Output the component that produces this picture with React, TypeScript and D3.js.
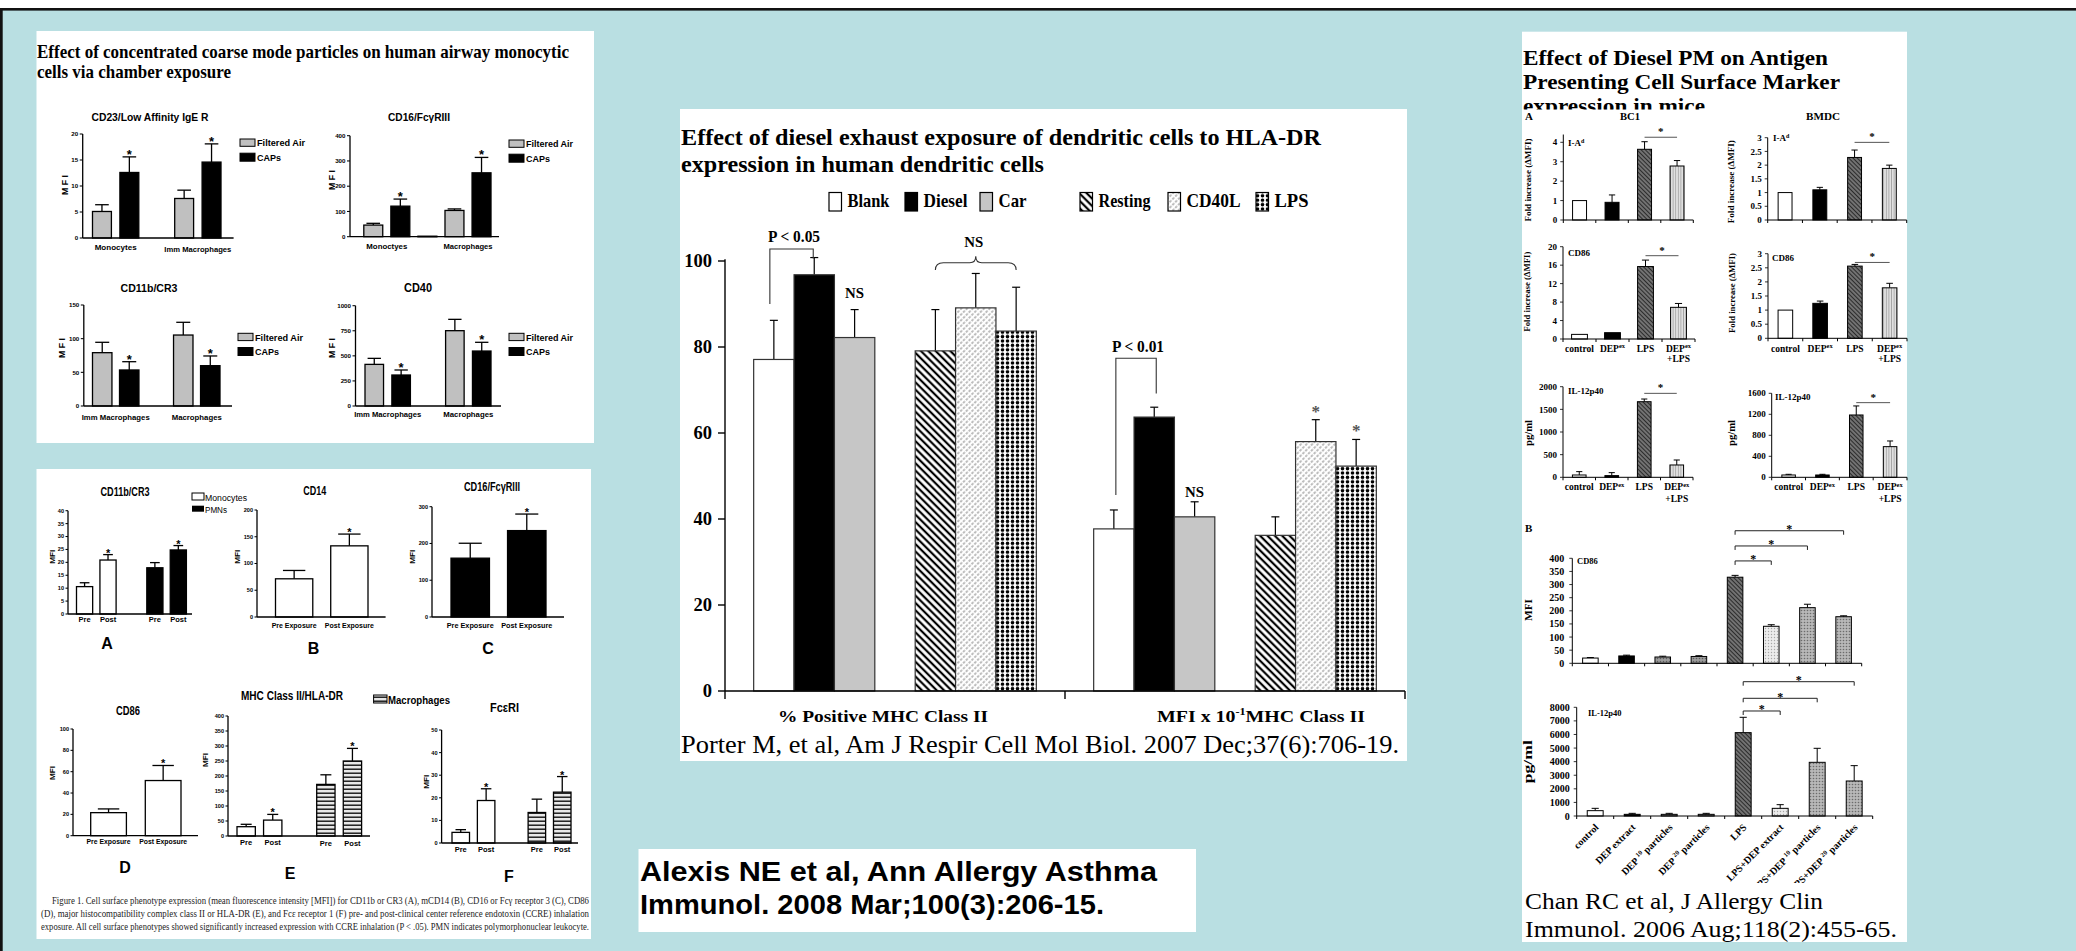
import React from "react";
import * as d3 from "d3";

const W = 2076;
const H = 951;
const SANS = "'Liberation Sans', Arial, Helvetica, sans-serif";
const SERIF = "'Liberation Serif', 'Times New Roman', Times, serif";
const BG = "#b9dfe2";
const GREY = "#c0c0c0";

// ================= Panel 1 data: concentrated coarse mode particles =================
const p1Series = ["Filtered Air", "CAPs"];
const p1Titles = ["CD23/Low  Affinity IgE R", "CD16/Fc\u03b3RIII", "CD11b/CR3", "CD40"];
const cd23Cats = ["Monocytes", "Imm Macrophages"];
const cd23Filtered = [5.1, 7.6];
const cd23FilteredErr = [1.3, 1.6];
const cd23Caps = [12.6, 14.6];
const cd23CapsErr = [3.0, 3.5];
const cd23Ticks = [0, 5, 10, 15, 20];

const cd16Cats = ["Monoctyes", "Macrophages"];
const cd16Filtered = [46, 104];
const cd16FilteredErr = [7, 6];
const cd16Caps = [121, 253];
const cd16CapsErr = [28, 61];
const cd16Extra = 2;
const cd16Ticks = [0, 100, 200, 300, 400];

const cd11Cats = ["Imm Macrophages", "Macrophages"];
const cd11Filtered = [79.2, 105.4];
const cd11FilteredErr = [15.4, 18.9];
const cd11Caps = [53.5, 59.9];
const cd11CapsErr = [12.3, 14.4];
const cd11Ticks = [0, 50, 100, 150];

const cd40Cats = ["Imm Macrophages", "Macrophages"];
const cd40Filtered = [415, 751];
const cd40FilteredErr = [60, 113];
const cd40Caps = [309, 548];
const cd40CapsErr = [50, 87];
const cd40Ticks = [0, 250, 500, 750, 1000];

// ================= Panel 2 data: Alexis NE et al =================
const prePost = ["Pre", "Post"];
const exposure = ["Pre Exposure", "Post Exposure"];
const aMono = [10.6, 20.9];
const aMonoErr = [1.5, 2.1];
const aPmn = [17.9, 24.8];
const aPmnErr = [2.0, 1.7];
const aTicks = [0, 5, 10, 15, 20, 25, 30, 35, 40];
const bCd14 = [71.4, 133];
const bCd14Err = [15.6, 22];
const bTicks = [0, 50, 100, 150, 200];
const cCd16 = [160, 235];
const cCd16Err = [40.6, 45];
const cTicks = [0, 100, 200, 300];
const dCd86 = [21.6, 51.7];
const dCd86Err = [3.5, 14.1];
const dTicks = [0, 20, 40, 60, 80, 100];
const eMono = [31, 53];
const eMonoErr = [8, 19];
const eMac = [172, 250];
const eMacErr = [32, 42];
const eTicks = [0, 50, 100, 150, 200, 250, 300, 350, 400];
const fMono = [4.7, 18.8];
const fMonoErr = [1.2, 5.2];
const fMac = [13.5, 22.5];
const fMacErr = [5.9, 6.9];
const fTicks = [0, 10, 20, 30, 40, 50];
const alexisCaption = [
  "Figure 1. Cell surface phenotype expression (mean fluorescence intensity [MFI]) for CD11b or CR3 (A), mCD14 (B), CD16 or Fc\u03b3 receptor 3 (C), CD86",
  "(D), major histocompatibility complex class II or HLA-DR (E), and Fc\u03b5 receptor 1 (F) pre- and post-clinical center reference endotoxin (CCRE) inhalation",
  "exposure. All cell surface phenotypes showed significantly increased expression with CCRE inhalation (P < .05). PMN indicates polymorphonuclear leukocyte.",
];

// ================= Panel 3 data: Porter M et al =================
const porterGroups = ["% Positive MHC Class II", "MFI x 10-1 MHC Class II"];
const porterSeries = ["Blank", "Diesel", "Car", "Resting", "CD40L", "LPS"];
const porterPositive = [77.1, 96.8, 82.2, 79.1, 89.1, 83.7];
const porterPositiveErr = [9.1, 4.0, 6.5, 9.6, 8.0, 10.2];
const porterMfi = [37.7, 63.7, 40.5, 36.2, 58.0, 52.3];
const porterMfiErr = [4.4, 2.3, 3.5, 4.3, 5.1, 6.2];
const porterTicks = [0, 20, 40, 60, 80, 100];

// ================= Panel 4 data: Chan RC et al =================
const chanCats = ["control", "DEPex", "LPS", "DEPex+LPS"];
const foldLabel = "Fold increase (\u0394MFI)";
const bc1Iad = [1.0, 0.91, 3.64, 2.78];
const bc1IadErr = [0, 0.38, 0.39, 0.28];
const bmdcIad = [1.0, 1.1, 2.28, 1.88];
const bmdcIadErr = [0, 0.09, 0.27, 0.12];
const bc1Cd86 = [1.0, 1.37, 15.7, 6.86];
const bc1Cd86Err = [0, 0, 1.4, 0.84];
const bmdcCd86 = [1.0, 1.24, 2.56, 1.79];
const bmdcCd86Err = [0, 0.08, 0.06, 0.16];
const bc1Il12 = [51, 37, 1669, 272];
const bc1Il12Err = [74, 66, 59, 110];
const bmdcIl12 = [44, 44, 1187, 584];
const bmdcIl12Err = [13, 13, 172, 108];
const iadTicksBc1 = [0, 1, 2, 3, 4];
const foldTicks3 = [0, 0.5, 1, 1.5, 2, 2.5, 3];
const cd86TicksBc1 = [0, 4, 8, 12, 16, 20];
const il12TicksBc1 = [0, 500, 1000, 1500, 2000];
const il12TicksBmdc = [0, 400, 800, 1200, 1600];
const chanBCats = ["control", "DEP extract", "DEP 10 particles", "DEP 20 particles", "LPS", "LPS+DEP extract", "LPS+DEP 10 particles", "LPS+DEP 20 particles"];
const chanBCd86 = [20, 28, 24, 26, 328, 141, 212, 177.5];
const chanBCd86Err = [2, 3, 3, 3, 7, 6, 13, 3.5];
const chanBIl12 = [393, 123, 123, 123, 6135, 564, 3951, 2577];
const chanBIl12Err = [171, 73, 73, 73, 1129, 270, 1031, 1129];
const chanBCd86Ticks = [0, 50, 100, 150, 200, 250, 300, 350, 400];
const chanBIl12Ticks = [0, 1000, 2000, 3000, 4000, 5000, 6000, 7000, 8000];
const chanBCd86Brackets = [390, 447, 505];
const chanBIl12Brackets = [7728, 8662, 9884];

// ================= helpers =================
type Bar = { v: number; e: number; fill: string; star?: boolean } | null;
type XLab = { t: React.ReactNode; at: number[]; dy: number; len?: number; t2?: React.ReactNode; dy2?: number };
type Sig = { a: number; b: number; v: number; kind: "line" | "bracket" };
type Cfg = {
  bars: Bar[];
  range: [number, number];
  pi: number;
  po: number;
  axX: number;
  axEnd: number;
  y0: number;
  yMax: number;
  yMaxPx: number;
  axTopV?: number;
  ticks: number[];
  tickLen: number;
  tickFs: number;
  tickFont: string;
  tickGap: number;
  sw: number;
  capFrac: number;
  starFs: number;
  starFont: string;
  starDy: number;
  labFs?: number;
  labFont?: string;
  catTick?: number;
  xlabs?: XLab[];
  sigs?: Sig[];
  rot?: { items: React.ReactNode[]; dx: number; dy: number; fs: number };
};

function T(p: {
  x: number; y: number; s: number; f?: string; w?: string | number; a?: string; len?: number;
  rot?: number; fill?: string; children: React.ReactNode;
}) {
  const { x, y, s, f = SANS, w = "bold", a = "start", len, rot, fill = "#000", children } = p;
  return (
    <text
      x={x}
      y={y}
      fontSize={s}
      fontFamily={f}
      fontWeight={w as any}
      textAnchor={a as any}
      fill={fill}
      textLength={len}
      lengthAdjust={len ? "spacingAndGlyphs" : undefined}
      transform={rot ? `rotate(${rot} ${x} ${y})` : undefined}
    >
      {children}
    </text>
  );
}

function Chart({ c }: { c: Cfg }) {
  const y = d3.scaleLinear().domain([0, c.yMax]).range([c.y0, c.yMaxPx]);
  const x = d3
    .scaleBand<number>()
    .domain(d3.range(c.bars.length))
    .range(c.range)
    .paddingInner(c.pi)
    .paddingOuter(c.po);
  const bw = x.bandwidth();
  const cen = (i: number) => (x(i) ?? 0) + bw / 2;
  const capW = bw * c.capFrac;
  const topV = c.axTopV ?? c.yMax;
  const labFs = c.labFs ?? 8;
  const labFont = c.labFont ?? SANS;
  return (
    <g>
      {c.bars.map((b, i) => {
        if (!b) return null;
        const x0 = x(i) ?? 0;
        const cx = x0 + bw / 2;
        const yt = y(b.v);
        const ye = y(b.v + b.e);
        return (
          <g key={"b" + i}>
            {b.e > 0 && <line x1={cx} x2={cx} y1={yt} y2={ye} stroke="#000" strokeWidth={c.sw} />}
            {b.e > 0 && <line x1={cx - capW / 2} x2={cx + capW / 2} y1={ye} y2={ye} stroke="#000" strokeWidth={c.sw} />}
            <rect x={x0} y={yt} width={bw} height={Math.max(0.6, c.y0 - yt)} fill={b.fill} stroke="#000" strokeWidth={c.sw} />
            {b.star && (
              <text x={cx} y={ye + c.starDy} fontSize={c.starFs} fontFamily={c.starFont} fontWeight="bold" textAnchor="middle">
                *
              </text>
            )}
          </g>
        );
      })}
      <line x1={c.axX} x2={c.axX} y1={c.y0} y2={y(topV)} stroke="#000" strokeWidth={c.sw} />
      <line x1={c.axX} x2={c.axEnd} y1={c.y0} y2={c.y0} stroke="#000" strokeWidth={c.sw} />
      {c.ticks.map((t) => (
        <g key={"t" + t}>
          <line x1={c.axX - c.tickLen} x2={c.axX} y1={y(t)} y2={y(t)} stroke="#000" strokeWidth={c.sw * 0.8} />
          <text
            x={c.axX - c.tickLen - c.tickGap}
            y={y(t)}
            dy="0.35em"
            fontSize={c.tickFs}
            fontFamily={c.tickFont}
            fontWeight="bold"
            textAnchor="end"
          >
            {String(t)}
          </text>
        </g>
      ))}
      {c.catTick
        ? d3.range(c.bars.length + 1).map((i) => {
            const xb = c.range[0] + i * x.step();
            return <line key={"ct" + i} x1={xb} x2={xb} y1={c.y0} y2={c.y0 + (c.catTick as number)} stroke="#000" strokeWidth={c.sw} />;
          })
        : null}
      {(c.xlabs ?? []).map((l, k) => {
        const cx = d3.mean(l.at.map(cen)) as number;
        return (
          <g key={"xl" + k}>
            <text
              x={cx}
              y={c.y0 + l.dy}
              fontSize={labFs}
              fontFamily={labFont}
              fontWeight="bold"
              textAnchor="middle"
              textLength={l.len}
              lengthAdjust={l.len ? "spacingAndGlyphs" : undefined}
            >
              {l.t}
            </text>
            {l.t2 && (
              <text x={cx} y={c.y0 + (l.dy2 ?? l.dy + 11)} fontSize={labFs} fontFamily={labFont} fontWeight="bold" textAnchor="middle">
                {l.t2}
              </text>
            )}
          </g>
        );
      })}
      {(c.sigs ?? []).map((s, k) => {
        const xa = cen(s.a);
        const xb = cen(s.b);
        const ys = y(s.v);
        if (s.kind === "line") {
          return (
            <g key={"sg" + k}>
              <line x1={xa} x2={xb} y1={ys} y2={ys} stroke="#555" strokeWidth={1} />
              <text x={(xa + xb) / 2} y={ys - 2} fontSize={11} fontFamily={SERIF} fontWeight="bold" textAnchor="middle">
                *
              </text>
            </g>
          );
        }
        return (
          <g key={"sg" + k}>
            <path d={`M${xa},${ys + 4}V${ys}H${xb}V${ys + 4}`} fill="none" stroke="#222" strokeWidth={1} />
            <text x={(xa + xb) / 2} y={ys + 2.5} fontSize={12} fontFamily={SERIF} fontWeight="bold" textAnchor="middle">
              *
            </text>
          </g>
        );
      })}
      {c.rot &&
        c.rot.items.map((it, i) => {
          const lx = cen(i) + c.rot!.dx;
          const ly = c.y0 + c.rot!.dy;
          return (
            <text
              key={"rl" + i}
              x={lx}
              y={ly}
              fontSize={c.rot!.fs}
              fontFamily={SERIF}
              fontWeight="bold"
              textAnchor="end"
              transform={`rotate(-45 ${lx} ${ly})`}
            >
              {it}
            </text>
          );
        })}
    </g>
  );
}

// bars laid out [A0, B0*, mid, A1, B1*]
function grouped(a: number[], ae: number[], fa: string, b: number[], be: number[], fb: string, mid: Bar): Bar[] {
  return [
    { v: a[0], e: ae[0], fill: fa },
    { v: b[0], e: be[0], fill: fb, star: true },
    mid,
    { v: a[1], e: ae[1], fill: fa },
    { v: b[1], e: be[1], fill: fb, star: true },
  ];
}
// bars laid out [m-pre, m-post*, gap, n-pre, n-post*]
function prepost(m: number[], me: number[], fm: string, n: number[], ne: number[], fn: string, starM: boolean): Bar[] {
  return [
    { v: m[0], e: me[0], fill: fm },
    { v: m[1], e: me[1], fill: fm, star: starM },
    null,
    { v: n[0], e: ne[0], fill: fn },
    { v: n[1], e: ne[1], fill: fn, star: true },
  ];
}

function Defs() {
  return (
    <defs>
      <pattern id="pRest" width="5.2" height="5.2" patternUnits="userSpaceOnUse" patternTransform="rotate(45)">
        <rect width="5.2" height="5.2" fill="#fff" />
        <line x1="0" x2="5.2" y1="2.6" y2="2.6" stroke="#000" strokeWidth="2.2" />
      </pattern>
      <pattern id="pCd40" width="4" height="4" patternUnits="userSpaceOnUse" patternTransform="rotate(-45)">
        <rect width="4" height="4" fill="#fff" />
        <line x1="0" x2="4" y1="2" y2="2" stroke="#7a7a7a" strokeWidth="1.2" strokeDasharray="2.6 1.4" />
      </pattern>
      <pattern id="pLps" width="5" height="4.4" patternUnits="userSpaceOnUse">
        <rect width="5" height="4.4" fill="#fff" />
        <circle cx="2.5" cy="2.2" r="1.8" fill="#000" />
      </pattern>
      <pattern id="pH" width="6" height="4" patternUnits="userSpaceOnUse">
        <rect width="6" height="4" fill="#e8e8e8" />
        <line x1="0" x2="6" y1="1.2" y2="1.2" stroke="#111" strokeWidth="1.4" />
      </pattern>
      <pattern id="pDark" width="3" height="3" patternUnits="userSpaceOnUse" patternTransform="rotate(45)">
        <rect width="3" height="3" fill="#7a7a7a" />
        <line x1="0" x2="3" y1="1.5" y2="1.5" stroke="#2c2c2c" strokeWidth="1.2" />
      </pattern>
      <pattern id="pLight" width="2.6" height="3" patternUnits="userSpaceOnUse">
        <rect width="2.6" height="3" fill="#e0e0e0" />
        <line x1="1.3" x2="1.3" y1="0" y2="3" stroke="#a6a6a6" strokeWidth="0.9" />
      </pattern>
      <pattern id="pMid" width="3" height="3" patternUnits="userSpaceOnUse">
        <rect width="3" height="3" fill="#9c9c9c" />
        <circle cx="1.5" cy="1.5" r="0.8" fill="#5c5c5c" />
      </pattern>
      <pattern id="pPale" width="3" height="3" patternUnits="userSpaceOnUse">
        <rect width="3" height="3" fill="#ececec" />
        <circle cx="1.5" cy="1.5" r="0.7" fill="#a8a8a8" />
      </pattern>
      <pattern id="pGrayDot" width="3" height="3" patternUnits="userSpaceOnUse">
        <rect width="3" height="3" fill="#b8b8b8" />
        <circle cx="1.5" cy="1.5" r="0.8" fill="#6c6c6c" />
      </pattern>
      <clipPath id="clipTitleR">
        <rect x="1522" y="30" width="390" height="79.5" />
      </clipPath>
    </defs>
  );
}

// ================= Panel: top-left =================
function FaLegend({ x, y, len1, len2 }: { x: number; y: number; len1: number; len2: number }) {
  return (
    <g>
      <rect x={x} y={y} width={15} height={7.3} fill={GREY} stroke="#000" strokeWidth={1} />
      <T x={x + 17} y={y + 7.3} s={9} len={len1}>{p1Series[0]}</T>
      <rect x={x} y={y + 14.2} width={15} height={8} fill="#000" stroke="#000" strokeWidth={1} />
      <T x={x + 17} y={y + 21.5} s={9} len={len2}>{p1Series[1]}</T>
    </g>
  );
}

function PanelTL() {
  const base = {
    tickLen: 3, tickFs: 6.2, tickFont: SANS, tickGap: 1.5, sw: 1.3, capFrac: 0.72,
    starFs: 13, starFont: SANS, starDy: 2, labFs: 7.5, labFont: SANS, po: 0,
  };
  const charts: Cfg[] = [
    {
      ...base,
      bars: grouped(cd23Filtered, cd23FilteredErr, GREY, cd23Caps, cd23CapsErr, "#000", null),
      range: [92.5, 221], pi: 0.31, axX: 82.7, axEnd: 233.6, y0: 238, yMax: 20, yMaxPx: 134, ticks: cd23Ticks,
      xlabs: [
        { t: cd23Cats[0], at: [0, 1], dy: 12, len: 42 },
        { t: cd23Cats[1], at: [3, 4], dy: 14, len: 67 },
      ],
    },
    {
      ...base,
      bars: grouped(cd16Filtered, cd16FilteredErr, GREY, cd16Caps, cd16CapsErr, "#000", { v: cd16Extra, e: 0, fill: "#000" }),
      range: [363.8, 491], pi: 0.3, axX: 350, axEnd: 499, y0: 236.7, yMax: 400, yMaxPx: 135.7, ticks: cd16Ticks,
      xlabs: [
        { t: cd16Cats[0], at: [0, 1], dy: 12.5, len: 41 },
        { t: cd16Cats[1], at: [3, 4], dy: 12.5, len: 49 },
      ],
    },
    {
      ...base,
      bars: grouped(cd11Filtered, cd11FilteredErr, GREY, cd11Caps, cd11CapsErr, "#000", null),
      range: [92.5, 220], pi: 0.28, axX: 83.8, axEnd: 232, y0: 406, yMax: 150, yMaxPx: 305, ticks: cd11Ticks,
      xlabs: [
        { t: cd11Cats[0], at: [0, 1], dy: 14, len: 68 },
        { t: cd11Cats[1], at: [3, 4], dy: 14, len: 50 },
      ],
    },
    {
      ...base,
      bars: grouped(cd40Filtered, cd40FilteredErr, GREY, cd40Caps, cd40CapsErr, "#000", null),
      range: [365, 491], pi: 0.31, axX: 355.5, axEnd: 501, y0: 406, yMax: 1000, yMaxPx: 305.7, ticks: cd40Ticks,
      xlabs: [
        { t: cd40Cats[0], at: [0, 1], dy: 11, len: 67 },
        { t: cd40Cats[1], at: [3, 4], dy: 11, len: 50 },
      ],
    },
  ];
  const titlePos: [number, number, number, number][] = [
    [150, 120.7, 11, 117],
    [419, 120.7, 11, 62],
    [149, 291.5, 11.5, 57],
    [418, 292, 13, 28],
  ];
  return (
    <g>
      <rect x={36.5} y={31} width={557.5} height={412} fill="#fff" />
      <T x={37} y={58.3} s={19} f={SERIF} len={532}>Effect of concentrated coarse mode particles on human airway monocytic</T>
      <T x={37} y={78.3} s={19} f={SERIF} len={194}>cells via chamber exposure</T>
      {p1Titles.map((t, i) => (
        <T key={t} x={titlePos[i][0]} y={titlePos[i][1]} s={titlePos[i][2]} a="middle" len={titlePos[i][3]}>
          {t}
        </T>
      ))}
      {[
        [67.5, 185],
        [335, 180],
        [65, 348],
        [335, 348],
      ].map(([x, y], i) => (
        <T key={i} x={x} y={y} s={9} a="middle" rot={-90} len={20}>M F I</T>
      ))}
      {charts.map((c, i) => (
        <Chart key={i} c={c} />
      ))}
      <FaLegend x={240} y={139} len1={48} len2={24} />
      <FaLegend x={509} y={140} len1={47} len2={24} />
      <FaLegend x={238} y={333.3} len1={48} len2={24} />
      <FaLegend x={509} y={333.3} len1={47} len2={24} />
    </g>
  );
}

// ================= Panel: bottom-left =================
function PanelBL() {
  const base = {
    tickLen: 2.5, tickFs: 5.6, tickFont: SANS, tickGap: 1.5, sw: 1.3, capFrac: 0.6,
    starFs: 11, starFont: SANS, starDy: 2, labFs: 7.5, labFont: SANS, po: 0,
  };
  const charts: Cfg[] = [
    {
      ...base,
      bars: prepost(aMono, aMonoErr, "#fff", aPmn, aPmnErr, "#000", true),
      range: [76.5, 186.4], pi: 0.31, axX: 68, axEnd: 192, y0: 614, yMax: 40, yMaxPx: 510.7, ticks: aTicks,
      xlabs: [
        { t: prePost[0], at: [0], dy: 8 },
        { t: prePost[1], at: [1], dy: 8 },
        { t: prePost[0], at: [3], dy: 8 },
        { t: prePost[1], at: [4], dy: 8 },
      ],
    },
    {
      ...base,
      bars: [
        { v: bCd14[0], e: bCd14Err[0], fill: "#fff" },
        { v: bCd14[1], e: bCd14Err[1], fill: "#fff", star: true },
      ],
      range: [275.5, 368], pi: 0.325, axX: 257, axEnd: 385.6, y0: 617, yMax: 200, yMaxPx: 510, ticks: bTicks,
      xlabs: [
        { t: exposure[0], at: [0], dy: 11, len: 45 },
        { t: exposure[1], at: [1], dy: 11, len: 49 },
      ],
    },
    {
      ...base,
      bars: [
        { v: cCd16[0], e: cCd16Err[0], fill: "#000" },
        { v: cCd16[1], e: cCd16Err[1], fill: "#000", star: true },
      ],
      range: [451, 546], pi: 0.32, axX: 432, axEnd: 564, y0: 617, yMax: 300, yMaxPx: 506.7, ticks: cTicks,
      xlabs: [
        { t: exposure[0], at: [0], dy: 11, len: 47 },
        { t: exposure[1], at: [1], dy: 11, len: 51 },
      ],
    },
    {
      ...base,
      bars: [
        { v: dCd86[0], e: dCd86Err[0], fill: "#fff" },
        { v: dCd86[1], e: dCd86Err[1], fill: "#fff", star: true },
      ],
      range: [90.7, 181], pi: 0.346, axX: 73, axEnd: 198, y0: 835.7, yMax: 100, yMaxPx: 729, ticks: dTicks,
      xlabs: [
        { t: exposure[0], at: [0], dy: 8, len: 44 },
        { t: exposure[1], at: [1], dy: 8, len: 48 },
      ],
    },
    {
      ...base,
      bars: prepost(eMono, eMonoErr, "#fff", eMac, eMacErr, "url(#pH)", true),
      range: [237, 361.6], pi: 0.31, axX: 228, axEnd: 370, y0: 836, yMax: 400, yMaxPx: 716, ticks: eTicks,
      xlabs: [
        { t: prePost[0], at: [0], dy: 9 },
        { t: prePost[1], at: [1], dy: 9 },
        { t: prePost[0], at: [3], dy: 10 },
        { t: prePost[1], at: [4], dy: 10 },
      ],
    },
    {
      ...base,
      bars: prepost(fMono, fMonoErr, "#fff", fMac, fMacErr, "url(#pH)", true),
      range: [452, 571], pi: 0.31, axX: 441.6, axEnd: 578, y0: 843, yMax: 50, yMaxPx: 730, ticks: fTicks,
      xlabs: [
        { t: prePost[0], at: [0], dy: 9 },
        { t: prePost[1], at: [1], dy: 9 },
        { t: prePost[0], at: [3], dy: 9 },
        { t: prePost[1], at: [4], dy: 9 },
      ],
    },
  ];
  const titles: [string, number, number, number][] = [
    ["CD11b/CR3", 125, 496, 49],
    ["CD14", 314.7, 494.5, 23],
    ["CD16/Fc\u03b3RIII", 492, 491, 56],
    ["CD86", 128, 715, 24],
    ["MHC Class II/HLA-DR", 292, 700, 102],
    ["Fc\u03b5RI", 504.5, 712, 29],
  ];
  const letters: [string, number, number][] = [
    ["A", 107, 649],
    ["B", 313.6, 654],
    ["C", 488, 654],
    ["D", 125, 873],
    ["E", 290, 879],
    ["F", 509, 882],
  ];
  const ylabs: [number, number][] = [
    [55.5, 556.7],
    [240, 556.7],
    [415, 556.7],
    [55, 773],
    [207.5, 760],
    [428.6, 781.7],
  ];
  return (
    <g>
      <rect x={36.5} y={469} width={554.5} height={470} fill="#fff" />
      {charts.map((c, i) => (
        <Chart key={i} c={c} />
      ))}
      {titles.map(([t, x, y, len], i) => (
        <T key={i} x={x} y={y} s={12} a="middle" len={len}>{t}</T>
      ))}
      {letters.map(([t, x, y], i) => (
        <T key={i} x={x} y={y} s={16} a="middle">{t}</T>
      ))}
      {ylabs.map(([x, y], i) => (
        <T key={i} x={x} y={y} s={7} a="middle" rot={-90} len={14}>MFI</T>
      ))}
      <rect x={192} y={493} width={12} height={7} fill="#fff" stroke="#000" strokeWidth={1} />
      <T x={205} y={500.5} s={8.5} w="normal" len={42}>Monocytes</T>
      <rect x={192} y={505.7} width={12} height={6} fill="#000" />
      <T x={205} y={513} s={8.5} w="normal" len={22}>PMNs</T>
      <rect x={373.6} y={695} width={13.4} height={8} fill="url(#pH)" stroke="#000" strokeWidth={1} />
      <T x={388} y={703.5} s={10.5} len={62}>Macrophages</T>
      {alexisCaption.map((line, i) => (
        <T key={i} x={i === 0 ? 52 : 41} y={903.5 + i * 13.3} s={9.5} f={SERIF} w="normal" len={i === 0 ? 537 : 548} fill="#222">
          {line}
        </T>
      ))}
    </g>
  );
}

// ================= Panel: center (Porter) =================
function PanelCenter() {
  const y0 = 691;
  const py = d3.scaleLinear().domain([0, 100]).range([y0, 261]);
  const pg = d3.scaleBand<string>().domain(porterGroups).range([725, 1405]);
  const slots = ["Blank", "Diesel", "Car", "_gap", "Resting", "CD40L", "LPS"];
  const ps = d3.scaleBand<string>().domain(slots).range([0, pg.bandwidth()]).paddingOuter(0.71);
  const bw = ps.bandwidth();
  const fills: Record<string, string> = {
    Blank: "#fff",
    Diesel: "#000",
    Car: "#c6c6c6",
    Resting: "url(#pRest)",
    CD40L: "url(#pCd40)",
    LPS: "url(#pLps)",
  };
  const cx = (g: number, s: string) => (pg(porterGroups[g]) ?? 0) + (ps(s) ?? 0) + bw / 2;
  const vals = [porterPositive, porterMfi];
  const errs = [porterPositiveErr, porterMfiErr];
  const legendX = [829, 905, 980, 1080, 1168, 1256];
  const legendLen = [42, 44, 28, 52, 54, 34];
  const cap = 8;
  const braceY = py(97.9);
  const braceM = py(99.6);
  const braceP = py(101.1);
  const bl = cx(0, "Resting");
  const br = cx(0, "LPS");
  const bm = cx(0, "CD40L");
  return (
    <g>
      <rect x={680} y={109} width={727} height={652} fill="#fff" />
      <T x={681} y={145} s={23} f={SERIF} len={640}>Effect of diesel exhaust exposure of dendritic cells to HLA-DR</T>
      <T x={681} y={171.5} s={23} f={SERIF} len={363}>expression in human dendritic cells</T>
      {porterSeries.map((s, i) => (
        <g key={s}>
          <rect x={legendX[i]} y={192.5} width={12.5} height={18.5} fill={fills[s]} stroke="#000" strokeWidth={1.2} />
          <T x={legendX[i] + 18.5} y={207} s={19} f={SERIF} len={legendLen[i]}>{s}</T>
        </g>
      ))}
      {porterGroups.map((g, gi) =>
        porterSeries.map((s, si) => {
          const x0 = (pg(g) ?? 0) + (ps(s) ?? 0);
          const v = vals[gi][si];
          const e = errs[gi][si];
          const c = x0 + bw / 2;
          return (
            <g key={g + s}>
              <line x1={c} x2={c} y1={py(v)} y2={py(v + e)} stroke="#000" strokeWidth={1.2} />
              <line x1={c - cap / 2} x2={c + cap / 2} y1={py(v + e)} y2={py(v + e)} stroke="#000" strokeWidth={1.2} />
              <rect x={x0} y={py(v)} width={bw} height={y0 - py(v)} fill={fills[s]} stroke="#333" strokeWidth={1.2} />
            </g>
          );
        })
      )}
      {/* axes */}
      <line x1={725} x2={725} y1={y0 + 8} y2={py(100.4)} stroke="#000" strokeWidth={1.4} />
      <line x1={725} x2={1405} y1={y0} y2={y0} stroke="#000" strokeWidth={1.6} />
      {porterGroups.map((g) => (
        <line key={g} x1={(pg(g) ?? 0) + pg.bandwidth()} x2={(pg(g) ?? 0) + pg.bandwidth()} y1={y0} y2={y0 + 8} stroke="#000" strokeWidth={1.4} />
      ))}
      {porterTicks.map((t) => (
        <g key={t}>
          <line x1={718} x2={725} y1={py(t)} y2={py(t)} stroke="#000" strokeWidth={1.4} />
          <T x={712} y={py(t) + 6} s={18.5} f={SERIF} a="end">{String(t)}</T>
        </g>
      ))}
      <T x={(pg(porterGroups[0]) ?? 0) + pg.bandwidth() / 2 - 12} y={722} s={16.5} f={SERIF} a="middle" len={210}>
        {porterGroups[0]}
      </T>
      <T x={(pg(porterGroups[1]) ?? 0) + pg.bandwidth() / 2 + 26} y={722} s={16.5} f={SERIF} a="middle" len={208}>
        MFI x 10<tspan fontSize={10} dy={-7}>-1</tspan>
        <tspan dy={7}>MHC Class II</tspan>
      </T>
      {/* annotations */}
      <path
        d={`M${cx(0, "Blank") - 4},${py(90)}V${py(102.8)}H${cx(0, "Diesel") - 1}V${py(100.6)}`}
        fill="none"
        stroke="#333"
        strokeWidth={1.1}
      />
      <T x={(cx(0, "Blank") + cx(0, "Diesel")) / 2} y={py(104.5)} s={16} f={SERIF} a="middle" len={52}>P &lt; 0.05</T>
      <T x={cx(0, "Car")} y={py(91.3)} s={15} f={SERIF} a="middle" len={19}>NS</T>
      <path
        d={`M${bl},${braceY}Q${bl},${braceM} ${bl + 8},${braceM}H${bm - 6}Q${bm},${braceM} ${bm},${braceP}Q${bm},${braceM} ${bm + 6},${braceM}H${br - 8}Q${br},${braceM} ${br},${braceY}`}
        fill="none"
        stroke="#333"
        strokeWidth={1.1}
      />
      <T x={bm - 2} y={py(103.3)} s={15} f={SERIF} a="middle" len={19}>NS</T>
      <path
        d={`M${cx(1, "Blank") + 2},${py(45.6)}V${py(77.4)}H${cx(1, "Diesel") + 2}V${py(69.2)}`}
        fill="none"
        stroke="#333"
        strokeWidth={1.1}
      />
      <T x={(cx(1, "Blank") + cx(1, "Diesel")) / 2 + 4} y={py(78.9)} s={16} f={SERIF} a="middle" len={52}>P &lt; 0.01</T>
      <T x={cx(1, "Car")} y={py(45.2)} s={15} f={SERIF} a="middle" len={19}>NS</T>
      {["CD40L", "LPS"].map((s) => {
        const si = porterSeries.indexOf(s);
        return (
          <T key={s} x={cx(1, s)} y={py(porterMfi[si] + porterMfiErr[si]) - 3} s={17} f={SERIF} a="middle" fill="#555">
            *
          </T>
        );
      })}
      <T x={681} y={753} s={26} f={SERIF} w="normal" len={718}>Porter M, et al, Am J Respir Cell Mol Biol. 2007 Dec;37(6):706-19.</T>
    </g>
  );
}

// ================= Panel: Alexis citation =================
function PanelAlexis() {
  return (
    <g>
      <rect x={638.5} y={849} width={557.5} height={83} fill="#fff" />
      <T x={640} y={881} s={27} len={517}>Alexis NE et al, Ann Allergy Asthma</T>
      <T x={640} y={914} s={27} len={464}>Immunol. 2008 Mar;100(3):206-15.</T>
    </g>
  );
}

// ================= Panel: right (Chan) =================
function Dep() {
  return (
    <>
      DEP<tspan fontSize={6.5} dy={-3.5}>ex</tspan>
    </>
  );
}

function PanelRight() {
  const st = {
    tickLen: 3, tickFs: 9, tickFont: SERIF, tickGap: 3, sw: 1, capFrac: 0.45,
    starFs: 11, starFont: SERIF, starDy: 1, labFs: 9.5, labFont: SERIF, catTick: 3,
  };
  const fills4 = ["#fff", "#000", "url(#pDark)", "url(#pLight)"];
  const mk = (v: number[], e: number[]): Bar[] => v.map((d, i) => ({ v: d, e: e[i], fill: fills4[i] }));
  const labs = (dy: number, dy2: number): XLab[] =>
    chanCats.map((c, i) => {
      if (c === "DEPex+LPS") return { t: <Dep />, t2: "+LPS", at: [i], dy, dy2 };
      if (c === "DEPex") return { t: <Dep />, at: [i], dy };
      return { t: c, at: [i], dy };
    });
  const bFills = ["#fff", "#000", "url(#pMid)", "url(#pMid)", "url(#pDark)", "url(#pPale)", "url(#pGrayDot)", "url(#pGrayDot)"];
  const mkB = (v: number[], e: number[]): Bar[] => v.map((d, i) => ({ v: d, e: e[i], fill: bFills[i] }));
  const rotItems = chanBCats.map((c) => {
    const m = c.match(/^(.*DEP) (10|20) (particles)$/);
    if (m)
      return (
        <>
          {m[1]} <tspan fontSize={6.5} dy={-4}>{m[2]}</tspan>
          <tspan dy={4}> {m[3]}</tspan>
        </>
      );
    return c;
  });
  const charts: Cfg[] = [
    {
      ...st, bars: mk(bc1Iad, bc1IadErr), range: [1563.3, 1693.3], pi: 0.57, po: 0.285, axX: 1563.3, axEnd: 1693.3,
      y0: 220, yMax: 4, yMaxPx: 142.3, axTopV: 4.4, ticks: iadTicksBc1, sigs: [{ a: 2, b: 3, v: 4.26, kind: "line" }],
    },
    {
      ...st, bars: mk(bmdcIad, bmdcIadErr), range: [1767.7, 1906.7], pi: 0.6, po: 0.3, axX: 1767.7, axEnd: 1906.7,
      y0: 220, yMax: 3, yMaxPx: 137.7, ticks: foldTicks3, sigs: [{ a: 2, b: 3, v: 2.83, kind: "line" }],
    },
    {
      ...st, bars: mk(bc1Cd86, bc1Cd86Err), range: [1563, 1695], pi: 0.52, po: 0.26, axX: 1563, axEnd: 1695,
      y0: 339, yMax: 20, yMaxPx: 246.7, ticks: cd86TicksBc1, sigs: [{ a: 2, b: 3, v: 18.05, kind: "line" }],
      xlabs: labs(12.7, 23.3),
    },
    {
      ...st, bars: mk(bmdcCd86, bmdcCd86Err), range: [1768, 1907], pi: 0.58, po: 0.29, axX: 1768, axEnd: 1907,
      y0: 338.3, yMax: 3, yMaxPx: 253.7, ticks: foldTicks3, sigs: [{ a: 2, b: 3, v: 2.69, kind: "line" }],
      xlabs: labs(13.4, 24),
    },
    {
      ...st, bars: mk(bc1Il12, bc1Il12Err), range: [1563, 1693], pi: 0.58, po: 0.29, axX: 1563, axEnd: 1693,
      y0: 477.3, yMax: 2000, yMaxPx: 386.7, ticks: il12TicksBc1, sigs: [{ a: 2, b: 3, v: 1853, kind: "line" }],
      xlabs: labs(12.7, 24.4),
    },
    {
      ...st, bars: mk(bmdcIl12, bmdcIl12Err), range: [1771.7, 1907], pi: 0.6, po: 0.3, axX: 1771.7, axEnd: 1907,
      y0: 477.3, yMax: 1600, yMaxPx: 393.3, ticks: il12TicksBmdc, sigs: [{ a: 2, b: 3, v: 1422, kind: "line" }],
      xlabs: labs(12.7, 24.4),
    },
    {
      ...st, tickFs: 10, tickGap: 5, bars: mkB(chanBCd86, chanBCd86Err), range: [1572.3, 1861.7], pi: 0.57, po: 0.285,
      axX: 1572.3, axEnd: 1861.7, y0: 663.3, yMax: 400, yMaxPx: 558.3, ticks: chanBCd86Ticks,
      sigs: chanBCd86Brackets.map((v, k) => ({ a: 4, b: 5 + k, v, kind: "bracket" as const })),
    },
    {
      ...st, tickFs: 10, tickGap: 4, bars: mkB(chanBIl12, chanBIl12Err), range: [1576.7, 1872.7], pi: 0.57, po: 0.285,
      axX: 1576.7, axEnd: 1872.7, y0: 816, yMax: 8000, yMaxPx: 707.3, ticks: chanBIl12Ticks,
      sigs: chanBIl12Brackets.map((v, k) => ({ a: 4, b: 5 + k, v, kind: "bracket" as const })),
      rot: { items: rotItems, dx: 4, dy: 12, fs: 10 },
    },
  ];
  const foldLabs: [number, number][] = [
    [1530.5, 180],
    [1734.5, 181.7],
    [1530.5, 291.7],
    [1734.5, 293],
  ];
  return (
    <g>
      <rect x={1522} y={31.7} width={385} height={910} fill="#fff" />
      <g clipPath="url(#clipTitleR)">
        <T x={1523} y={65} s={20} f={SERIF} len={305}>Effect of Diesel PM on Antigen</T>
        <T x={1523} y={89.3} s={20} f={SERIF} len={317}>Presenting Cell Surface Marker</T>
        <T x={1523} y={112.5} s={20} f={SERIF} len={182}>expression in mice</T>
      </g>
      <T x={1525} y={120} s={11} f={SERIF}>A</T>
      <T x={1630} y={120} s={10} f={SERIF} a="middle" len={20}>BC1</T>
      <T x={1823} y={120} s={10} f={SERIF} a="middle" len={34}>BMDC</T>
      {charts.map((c, i) => (
        <Chart key={i} c={c} />
      ))}
      <T x={1568} y={146} s={9} f={SERIF}>
        I-A<tspan fontSize={6} dy={-3}>d</tspan>
      </T>
      <T x={1773} y={141} s={9} f={SERIF}>
        I-A<tspan fontSize={6} dy={-3}>d</tspan>
      </T>
      <T x={1568} y={256} s={9} f={SERIF}>CD86</T>
      <T x={1772} y={261} s={9} f={SERIF}>CD86</T>
      <T x={1568} y={394} s={9} f={SERIF}>IL-12p40</T>
      <T x={1775} y={400} s={9} f={SERIF}>IL-12p40</T>
      {foldLabs.map(([x, y], i) => (
        <T key={i} x={x} y={y} s={8} f={SERIF} a="middle" rot={-90} len={i < 2 ? 83 : 80}>
          {foldLabel}
        </T>
      ))}
      <T x={1531.5} y={433} s={10} f={SERIF} a="middle" rot={-90} len={26}>pg/ml</T>
      <T x={1735} y={433} s={10} f={SERIF} a="middle" rot={-90} len={26}>pg/ml</T>
      <T x={1525} y={532} s={11} f={SERIF}>B</T>
      <T x={1577} y={563.5} s={8.5} f={SERIF}>CD86</T>
      <T x={1588} y={716} s={8.5} f={SERIF}>IL-12p40</T>
      <T x={1532} y={610} s={11} f={SERIF} a="middle" rot={-90} len={22}>MFI</T>
      <T x={1532.5} y={761.7} s={12} f={SERIF} a="middle" rot={-90} len={43}>pg/ml</T>
      <rect x={1522} y={883} width={385} height={59} fill="#fff" />
      <T x={1525} y={909} s={24} f={SERIF} w="normal" len={298}>Chan RC et al, J Allergy Clin</T>
      <T x={1525} y={936.5} s={24} f={SERIF} w="normal" len={372}>Immunol. 2006 Aug;118(2):455-65.</T>
    </g>
  );
}

export default function App() {
  return (
    <div style={{ position: "absolute", left: 0, top: 0, width: W, height: H, overflow: "hidden" }}>
      <svg width={W} height={H} viewBox={`0 0 ${W} ${H}`} style={{ display: "block" }}>
        <Defs />
        <rect width={W} height={H} fill="#fff" />
        <rect x={0} y={8} width={W} height={H - 8} fill={BG} />
        <rect x={0} y={8} width={W} height={2.6} fill="#111" />
        <rect x={0} y={8} width={2.7} height={H - 8} fill="#111" />
        <PanelTL />
        <PanelBL />
        <PanelCenter />
        <PanelAlexis />
        <PanelRight />
      </svg>
    </div>
  );
}
